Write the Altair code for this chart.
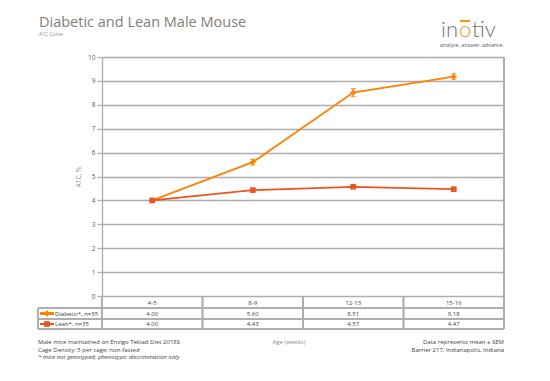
import altair as alt
import pandas as pd

ages = ["4-5", "8-9", "12-13", "15-16"]
diabetic = [4.00, 5.60, 8.51, 9.18]
lean = [4.00, 4.43, 4.57, 4.47]
diabetic_sem = [0.05, 0.12, 0.17, 0.12]
lean_sem = [0.04, 0.05, 0.05, 0.05]
series_names = ["Diabetic*,  n=35", "Lean*,  n=35"]
series_colors = ["#FF8000", "#EE5322"]
y_ticks = list(range(0, 11))

rows = []
for i, a in enumerate(ages):
    rows.append({"age": a, "series": series_names[0], "value": diabetic[i], "sem": diabetic_sem[i]})
    rows.append({"age": a, "series": series_names[1], "value": lean[i], "sem": lean_sem[i]})
df = pd.DataFrame(rows)
df["lo"] = df["value"] - df["sem"]
df["hi"] = df["value"] + df["sem"]
df["label"] = df["value"].map(lambda v: f"{v:.2f}")
ddf = df[df.series == series_names[0]]
ldf = df[df.series == series_names[1]]

W, H = 402, 239
FONT = "Open Sans"
GRID = "#adadad"
TXT = "#404040"

x = alt.X("age:N", scale=alt.Scale(domain=ages), axis=None, sort=ages)
y = alt.Y("value:Q", scale=alt.Scale(domain=[0, 10], nice=False),
          axis=alt.Axis(values=y_ticks, tickCount=11, grid=True, gridColor=GRID, gridWidth=1.3,
                        labelOverlap=False, labelFlush=False,
                        domainColor=GRID, domainWidth=1.3, tickColor=GRID, tickSize=5, tickWidth=1.3,
                        labelFontSize=6.5, labelColor="#595959", labelPadding=2,
                        title="A1C, %", titleFontSize=6.5, titleFontWeight="normal",
                        titleColor="#8c8c8c", titlePadding=6))
color = alt.Color("series:N", scale=alt.Scale(domain=series_names, range=series_colors), legend=None)

base = alt.Chart(df)
lines = base.mark_line(strokeWidth=1.8).encode(x=x, y=y, color=color)
err = base.mark_rule(strokeWidth=1.2).encode(x=x, y="lo:Q", y2="hi:Q", color=color)
capsl = base.mark_tick(thickness=1.2, size=5, orient="horizontal").encode(x=x, y="lo:Q", color=color)
capsh = base.mark_tick(thickness=1.2, size=5, orient="horizontal").encode(x=x, y="hi:Q", color=color)
dpts = alt.Chart(ddf).mark_point(shape="cross", filled=True, size=30, opacity=1).encode(x=x, y="value:Q", color=color)
lpts = alt.Chart(ldf).mark_point(shape="square", filled=True, size=32, opacity=1).encode(x=x, y="value:Q", color=color)

# table
hdr = alt.Chart(pd.DataFrame({"age": ages})).mark_text(fontSize=6, font=FONT, color=TXT).encode(
    x=alt.X("age:N", scale=alt.Scale(domain=ages), axis=None, sort=ages), y=alt.value(245.5), text="age:N")
drow = alt.Chart(ddf).mark_text(fontSize=6, font=FONT, color=TXT).encode(x=x, y=alt.value(256.5), text="label:N")
lrow = alt.Chart(ldf).mark_text(fontSize=6, font=FONT, color=TXT).encode(x=x, y=alt.value(267), text="label:N")

layers = [lines, err, capsl, capsh, dpts, lpts, hdr, drow, lrow]

def hrule(x1, x2, yy, c=GRID, w=1.2):
    return alt.Chart(df).mark_rule(color=c, strokeWidth=w).encode(x=alt.value(x1), x2=alt.value(x2), y=alt.value(yy))

def vrule(xx, y1, y2, c=GRID, w=1.2):
    return alt.Chart(df).mark_rule(color=c, strokeWidth=w).encode(x=alt.value(xx), y=alt.value(y1), y2=alt.value(y2))

for yy in [251, 262, 272]:
    layers.append(hrule(-64, W, yy))
layers.append(vrule(-64, 251, 272))
layers.append(vrule(0, 239, 272))
for k in range(1, 4):
    layers.append(vrule(W * k / 4, 239, 272))
layers.append(vrule(W, 0, 272))

# legend keys in the table
for i, yy in enumerate([256.5, 267]):
    layers.append(hrule(-62, -48, yy, series_colors[i], 2))
    layers.append(alt.Chart(pd.DataFrame({"s": [series_names[i]]})).mark_text(
        fontSize=6, font=FONT, color=TXT, align="left").encode(x=alt.value(-47), y=alt.value(yy), text="s:N"))
layers.append(alt.Chart(pd.DataFrame({"a": [0]})).mark_point(shape="cross", filled=True, size=30, opacity=1,
              color=series_colors[0]).encode(x=alt.value(-55), y=alt.value(256.5)))
layers.append(alt.Chart(pd.DataFrame({"a": [0]})).mark_point(shape="square", filled=True, size=32, opacity=1,
              color=series_colors[1]).encode(x=alt.value(-55), y=alt.value(267)))

def text(t, xx, yy, size=6, col=TXT, align="left", weight="normal", style="normal", font=FONT, baseline="middle"):
    return alt.Chart(pd.DataFrame({"t": [t]})).mark_text(
        fontSize=size, color=col, align=align, baseline=baseline, fontWeight=weight, fontStyle=style, font=font
    ).encode(x=alt.value(xx), y=alt.value(yy), text="t:N")

layers += [
    text("Diabetic and Lean Male Mouse", -63, -34, size=14.5, col="#857d78"),
    text("A1C Curve", -63, -23, size=5, col="#8c8c8c"),
    text("Male mice maintained on Envigo Teklad Diet 2018S", -64, 285),
    text("Cage Density: 5 per cage; non-fasted", -64, 292.5),
    text("* mice not genotyped; phenotypic discrimination only", -64, 300, style="italic"),
    text("Age (weeks)", 187, 285, col="#8c8c8c", align="center"),
    text("Data represents mean \u00b1 SEM", W, 285, align="right"),
    text("Barrier 217, Indianapolis, Indiana", W, 292.5, align="right"),
    # logo
    text("in", 339, -20, size=22, col="#7a706b", weight=300, font="Lato", baseline="alphabetic"),
    text("o", 357, -20, size=22, col="#F7941D", weight=300, font="Lato", baseline="alphabetic"),
    text("tiv", 370, -20, size=22, col="#7a706b", weight=300, font="Lato", baseline="alphabetic"),
    text("analyze. answer. advance.", 402, -12, size=5.3, col="#5a5a5a", align="right"),
]
layers.append(hrule(358.5, 367.5, -36, "#F7941D", 1.5))

chart = alt.layer(*layers).properties(
    width=W, height=H,
    autosize=alt.AutoSizeParams(type="none"),
    padding={"left": 94, "top": 49, "right": 30, "bottom": 70},
).configure_view(stroke=None).configure_axis(labelFont=FONT, titleFont=FONT)

chart.save("out.html", embed_options={"renderer": "svg", "actions": False})
